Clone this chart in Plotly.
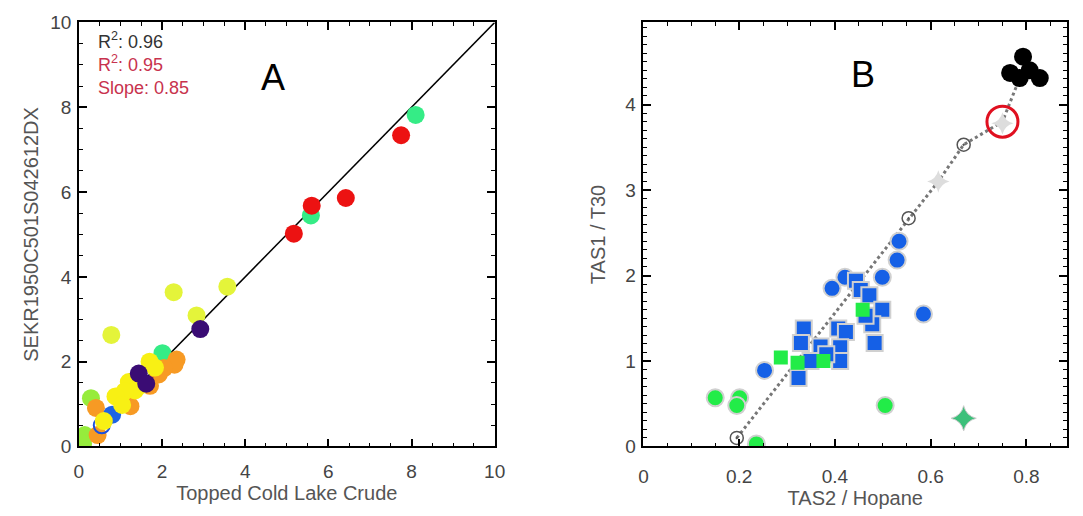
import plotly.graph_objects as go

# ---------------- Panel A data ----------------
a_mint_x = [8.1, 5.58, 2.01]
a_mint_y = [7.82, 5.45, 2.2]
a_red_x = [7.75, 6.42, 5.6, 5.17]
a_red_y = [7.34, 5.86, 5.68, 5.02]
a_lightyellow_x = [3.57, 2.28, 2.83, 0.78]
a_lightyellow_y = [3.77, 3.64, 3.09, 2.63]
a_lime_x = [0.29, 0.14, 0.1]
a_lime_y = [1.14, 0.27, 0.07]
a_orange_x = [2.35, 2.3, 2.05, 1.92, 1.71, 1.24, 0.41, 0.45]
a_orange_y = [2.05, 1.93, 1.85, 1.7, 1.43, 0.95, 0.91, 0.27]
a_blueopen_x = [0.55]
a_blueopen_y = [0.5]
a_blue_x = [0.8]
a_blue_y = [0.75]
a_yellow_x = [1.7, 1.83, 1.5, 1.2, 1.35, 1.1, 0.88, 1.04, 0.6]
a_yellow_y = [2.0, 1.86, 1.45, 1.52, 1.32, 1.3, 1.18, 0.98, 0.6]
a_purple_x = [2.92, 1.44, 1.62]
a_purple_y = [2.77, 1.72, 1.48]
a_line_x = [0, 10]
a_line_y = [0, 10]

# ---------------- Panel B data ----------------
b_path_x = [0.195, 0.554, 0.616, 0.669, 0.75, 0.786]
b_path_y = [0.1, 2.67, 3.1, 3.53, 3.8, 4.31]
b_graycirc_x = [0.195, 0.554, 0.669]
b_graycirc_y = [0.1, 2.67, 3.53]
b_faint_x = [0.616, 0.75]
b_faint_y = [3.1, 3.78]
b_black_x = [0.793, 0.766, 0.807, 0.828, 0.786]
b_black_y = [4.56, 4.37, 4.40, 4.31, 4.31]
b_redopen_x = [0.75]
b_redopen_y = [3.8]
b_bluecirc_x = [0.534, 0.530, 0.499, 0.394, 0.421, 0.585, 0.253]
b_bluecirc_y = [2.40, 2.18, 1.98, 1.85, 1.98, 1.55, 0.89]
b_greensq_x = [0.287, 0.376, 0.458, 0.322]
b_greensq_y = [1.04, 1.0, 1.6, 0.98]
b_bluesq_x = [0.444, 0.454, 0.472, 0.499, 0.478, 0.483, 0.464, 0.335, 0.329,
              0.370, 0.407, 0.423, 0.411, 0.411, 0.349, 0.324, 0.382]
b_bluesq_y = [1.94, 1.83, 1.77, 1.60, 1.43, 1.21, 1.53, 1.38, 1.21,
              1.17, 1.38, 1.34, 1.16, 1.0, 1.0, 0.80, 1.08]
b_greencirc_x = [0.150, 0.201, 0.195, 0.505, 0.236]
b_greencirc_y = [0.57, 0.57, 0.48, 0.48, 0.03]
b_star_x = [0.669]
b_star_y = [0.33]

b_tickvals = [0, 0.2, 0.4, 0.6, 0.8]
b_ticktext = ["0", "0.2", "0.4", "0.6", "0.8"]

stats_text = ("R<sup>2</sup>: 0.96<br>"
              "<span style='color:#c8324e'>R<sup>2</sup>: 0.95<br>Slope: 0.85</span>")

FONT = "Liberation Sans, Arial, sans-serif"

fig = go.Figure()

def pts(x, y, color, size=18, symbol="circle", xa="x", ya="y", line=None):
    fig.add_trace(go.Scatter(
        x=x, y=y, mode="markers", xaxis=xa, yaxis=ya, showlegend=False,
        marker=dict(color=color, size=size, symbol=symbol,
                    line=line if line else dict(width=0))))

# Panel A
fig.add_trace(go.Scatter(x=a_line_x, y=a_line_y, mode="lines", showlegend=False,
                         line=dict(color="black", width=1.5), xaxis="x", yaxis="y"))
pts(a_mint_x, a_mint_y, "#35ec86")
pts(a_red_x, a_red_y, "#ec1212")
pts(a_lightyellow_x, a_lightyellow_y, "#e4f43a")
pts(a_lime_x, a_lime_y, "#96ec3c")
pts(a_orange_x, a_orange_y, "#f79a24")
pts(a_blueopen_x, a_blueopen_y, "rgba(0,0,0,0)", size=16,
    line=dict(color="#1a50e0", width=2))
pts(a_blue_x, a_blue_y, "#1e64e4")
pts(a_yellow_x, a_yellow_y, "#f8f014")
pts(a_purple_x, a_purple_y, "#3a0c74")

# Panel B
halo = dict(color="#d0d0d0", width=2)
fig.add_trace(go.Scatter(x=b_path_x, y=b_path_y, mode="lines", showlegend=False,
                         line=dict(color="#777777", width=3, dash="dot"),
                         xaxis="x2", yaxis="y2"))
pts(b_faint_x, b_faint_y, "#dddddd", size=16, symbol="star-diamond", xa="x2", ya="y2")
pts(b_graycirc_x, b_graycirc_y, "#555555", size=13, symbol="circle-open-dot", xa="x2", ya="y2",
    line=dict(color="#555555", width=1.5))
pts(b_black_x, b_black_y, "black", size=18, xa="x2", ya="y2")
pts(b_redopen_x, b_redopen_y, "rgba(0,0,0,0)", size=31, xa="x2", ya="y2",
    line=dict(color="#e01020", width=3))
pts(b_greencirc_x, b_greencirc_y, "#22ec48", size=17, xa="x2", ya="y2", line=halo)
pts(b_bluecirc_x, b_bluecirc_y, "#1560e6", size=17, xa="x2", ya="y2", line=halo)
pts(b_bluesq_x, b_bluesq_y, "#1560e6", size=16, symbol="square", xa="x2", ya="y2", line=halo)
pts(b_greensq_x, b_greensq_y, "#22ec48", size=14, symbol="square", xa="x2", ya="y2")
pts(b_star_x, b_star_y, "#3cc07a", size=18, symbol="star-diamond", xa="x2", ya="y2",
    line=dict(color="#cccccc", width=1))

def axis(domain, rng, dtick, minor, title, anchor, standoff, lblstand, **kw):
    return dict(domain=domain, range=rng, dtick=dtick, tick0=0,
                showline=True, linecolor="black", linewidth=1.5, mirror="ticks",
                ticks="inside", ticklen=8, tickwidth=1.5, tickcolor="black",
                minor=dict(dtick=minor, ticks="inside", ticklen=4, tickwidth=1,
                           tickcolor="black"),
                showgrid=False, zeroline=False, anchor=anchor,
                ticklabelstandoff=lblstand,
                tickfont=dict(family=FONT, size=19, color="#444444"),
                title=dict(text=title, font=dict(family=FONT, size=20, color="#555555"),
                           standoff=standoff),
                **kw)

ydom = [61 / 516, 503 / 516]
fig.update_layout(
    width=1083, height=516,
    margin=dict(l=0, r=0, t=0, b=0),
    paper_bgcolor="white", plot_bgcolor="white",
    xaxis=axis([75 / 1083, 497 / 1083], [0, 10], 2, 0.5, "Topped Cold Lake Crude", "y", 4, 7),
    yaxis=axis(ydom, [0, 10], 2, 0.5, "SEKR1950C501S042612DX", "x", 6, 2),
    xaxis2=axis([648 / 1083, 1078 / 1083], [0, 0.885], None, 0.05, "TAS2 / Hopane", "y2", 2, 12,
                tickvals=b_tickvals, ticktext=b_ticktext),
    yaxis2=axis(ydom, [0, 4.96], 1, 0.1, "TAS1 / T30", "x2", 14, 2),
    annotations=[
        dict(x=0.4, y=9.03, xref="x", yref="y", xanchor="left", yanchor="middle",
             align="left", text=stats_text, showarrow=False,
             font=dict(family=FONT, size=18, color="#333333")),
        dict(x=4.67, y=8.7, xref="x", yref="y", text="A", showarrow=False,
             font=dict(family=FONT, size=36, color="black")),
        dict(x=0.458, y=4.35, xref="x2", yref="y2", text="B", showarrow=False,
             font=dict(family=FONT, size=36, color="black")),
    ],
)

fig.write_html("out.html")
